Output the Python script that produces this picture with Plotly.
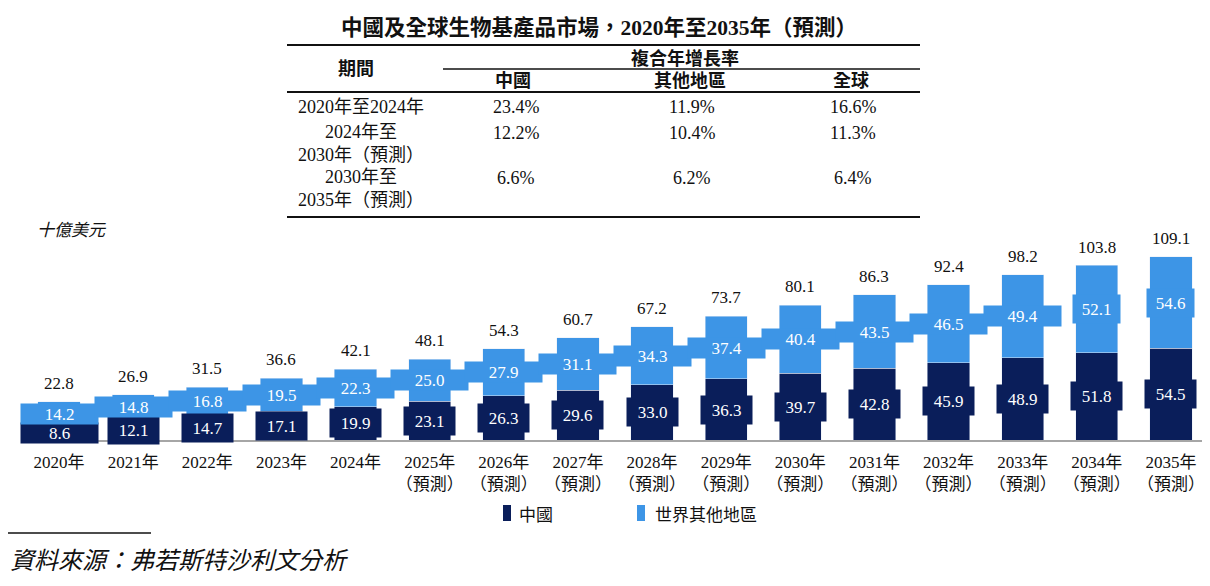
"""
China and global bio-based products market, 2020-2035E
"""

import plotly.graph_objects as go

# chart data
years = ['2020', '2021', '2022', '2023', '2024', '2025', '2026', '2027',
         '2028', '2029', '2030', '2031', '2032', '2033', '2034', '2035']
china = [8.6, 12.1, 14.7, 17.1, 19.9, 23.1, 26.3, 29.6, 33.0, 36.3, 39.7, 42.8, 45.9, 48.9, 51.8, 54.5]
rest_of_world = [14.2, 14.8, 16.8, 19.5, 22.3, 25.0, 27.9, 31.1, 34.3, 37.4, 40.4, 43.5, 46.5, 49.4, 52.1, 54.6]
totals = [22.8, 26.9, 31.5, 36.6, 42.1, 48.1, 54.3, 60.7, 67.2, 73.7, 80.1, 86.3, 92.4, 98.2, 103.8, 109.1]
tick_labels = [y + '年' for y in years[:5]] + [y + '年<br>（預測）' for y in years[5:]]

# CAGR table
periods = ['2020年至2024年', '2024年至<br>2030年（預測）', '2030年至<br>2035年（預測）']
cagr_china = ['23.4%', '12.2%', '6.6%']
cagr_other = ['11.9%', '10.4%', '6.2%']
cagr_global = ['16.6%', '11.3%', '6.4%']

DARK = '#0a1e5a'
LIGHT = '#3d95e6'
SERIF = 'Liberation Serif, Noto Sans CJK TC'
CJK = 'Noto Sans CJK TC'

W, H = 1210, 586
OFF = 8  # page body margin
L, R, T, B = 14, 10, 232, 154


# screen pixel -> paper helpers
def px(x):
    return (x - OFF - L) / (W - L - R)


def py(y):
    return (H - B - (y - OFF)) / (H - T - B)


fig = go.Figure()
fig.add_trace(go.Bar(x=years, y=china, name='中國', marker_color=DARK, width=0.57))
fig.add_trace(go.Bar(x=years, y=rest_of_world, name='世界其他地區', marker_color=LIGHT, width=0.57))

annotations = []
for i in range(len(years)):
    # label boxes for each segment
    dw, dh = (77, 20) if i == 0 else (51, 28)
    lw, lh = (47, 28) if i >= 14 else (77, 20)
    annotations.append(dict(x=i, y=china[i] / 2, xref='x', yref='y', text=f'{china[i]:.1f}',
                            showarrow=False, bgcolor=DARK, width=dw, height=dh, borderpad=0,
                            font=dict(family=SERIF, size=17, color='white')))
    annotations.append(dict(x=i, y=china[i] + rest_of_world[i] / 2, xref='x', yref='y',
                            text=f'{rest_of_world[i]:.1f}', showarrow=False, bgcolor=LIGHT,
                            width=lw, height=lh, borderpad=0,
                            font=dict(family=SERIF, size=17, color='white')))
    annotations.append(dict(x=i, y=totals[i], xref='x', yref='y', text=f'{totals[i]:.1f}',
                            showarrow=False, yanchor='bottom', yshift=7,
                            font=dict(family=SERIF, size=17, color='#111111')))


def text(x, y, s, size=18, bold=False, family=SERIF, xanchor='center', italic=False):
    if bold:
        s = '<b>' + s + '</b>'
    if italic:
        s = '<i>' + s + '</i>'
    annotations.append(dict(x=px(x), y=py(y), xref='paper', yref='paper', text=s, showarrow=False,
                            xanchor=xanchor, yanchor='middle', align='center',
                            font=dict(family=family, size=size, color='#111111')))


# title and table
text(599, 27, '中國及全球生物基產品市場，2020年至2035年（預測）', size=21.5, bold=True)
text(356, 69, '期間', bold=True)
text(685, 58, '複合年增長率', bold=True)
text(513, 81, '中國', bold=True)
text(690, 81, '其他地區', bold=True)
text(851, 81, '全球', bold=True)
row_y = [107, 143, 188]
for i in range(3):
    text(361, row_y[i], periods[i])
    text(516, row_y[i] if i == 0 else row_y[i] - 10, cagr_china[i])
    text(692, row_y[i] if i == 0 else row_y[i] - 10, cagr_other[i])
    text(853, row_y[i] if i == 0 else row_y[i] - 10, cagr_global[i])

shapes = []
for y0, x0, w in [(45, 287, 2), (69, 443, 1.5), (92, 287, 2), (217, 287, 2)]:
    shapes.append(dict(type='line', xref='paper', yref='paper', x0=px(x0), x1=px(920),
                       y0=py(y0), y1=py(y0), line=dict(color='#111111', width=w)))

# unit, legend, source
text(35, 228, '十億美元', size=17, family=CJK, xanchor='left', italic=True)
shapes.append(dict(type='rect', xref='paper', yref='paper', x0=px(503), x1=px(511),
                   y0=py(521), y1=py(505), fillcolor=DARK, line_width=0))
shapes.append(dict(type='rect', xref='paper', yref='paper', x0=px(637), x1=px(645),
                   y0=py(521), y1=py(505), fillcolor=LIGHT, line_width=0))
text(517, 513, '中國', size=17, family=CJK, xanchor='left')
text(653, 513, '世界其他地區', size=17, family=CJK, xanchor='left')
shapes.append(dict(type='line', xref='paper', yref='paper', x0=px(OFF), x1=px(151),
                   y0=py(533), y1=py(533), line=dict(color='#111111', width=1.5)))
text(OFF, 558, '資料來源：弗若斯特沙利文分析', size=24, family=CJK, xanchor='left', italic=True)

fig.update_layout(
    width=W, height=H,
    margin=dict(l=L, r=R, t=T, b=B),
    barmode='stack',
    showlegend=False,
    plot_bgcolor='white', paper_bgcolor='white',
    annotations=annotations,
    shapes=shapes,
    xaxis=dict(type='category', tickmode='array', tickvals=years, ticktext=tick_labels,
               range=[-0.5, len(years) - 0.5],
               showline=True, linecolor='#a6a6a6', linewidth=1.5, ticks='', showgrid=False,
               tickfont=dict(family=SERIF, size=17, color='#111111'), ticklabelstandoff=6,
               automargin=False),
    yaxis=dict(range=[0, 119], visible=False),
)

fig.write_html("out.html")
